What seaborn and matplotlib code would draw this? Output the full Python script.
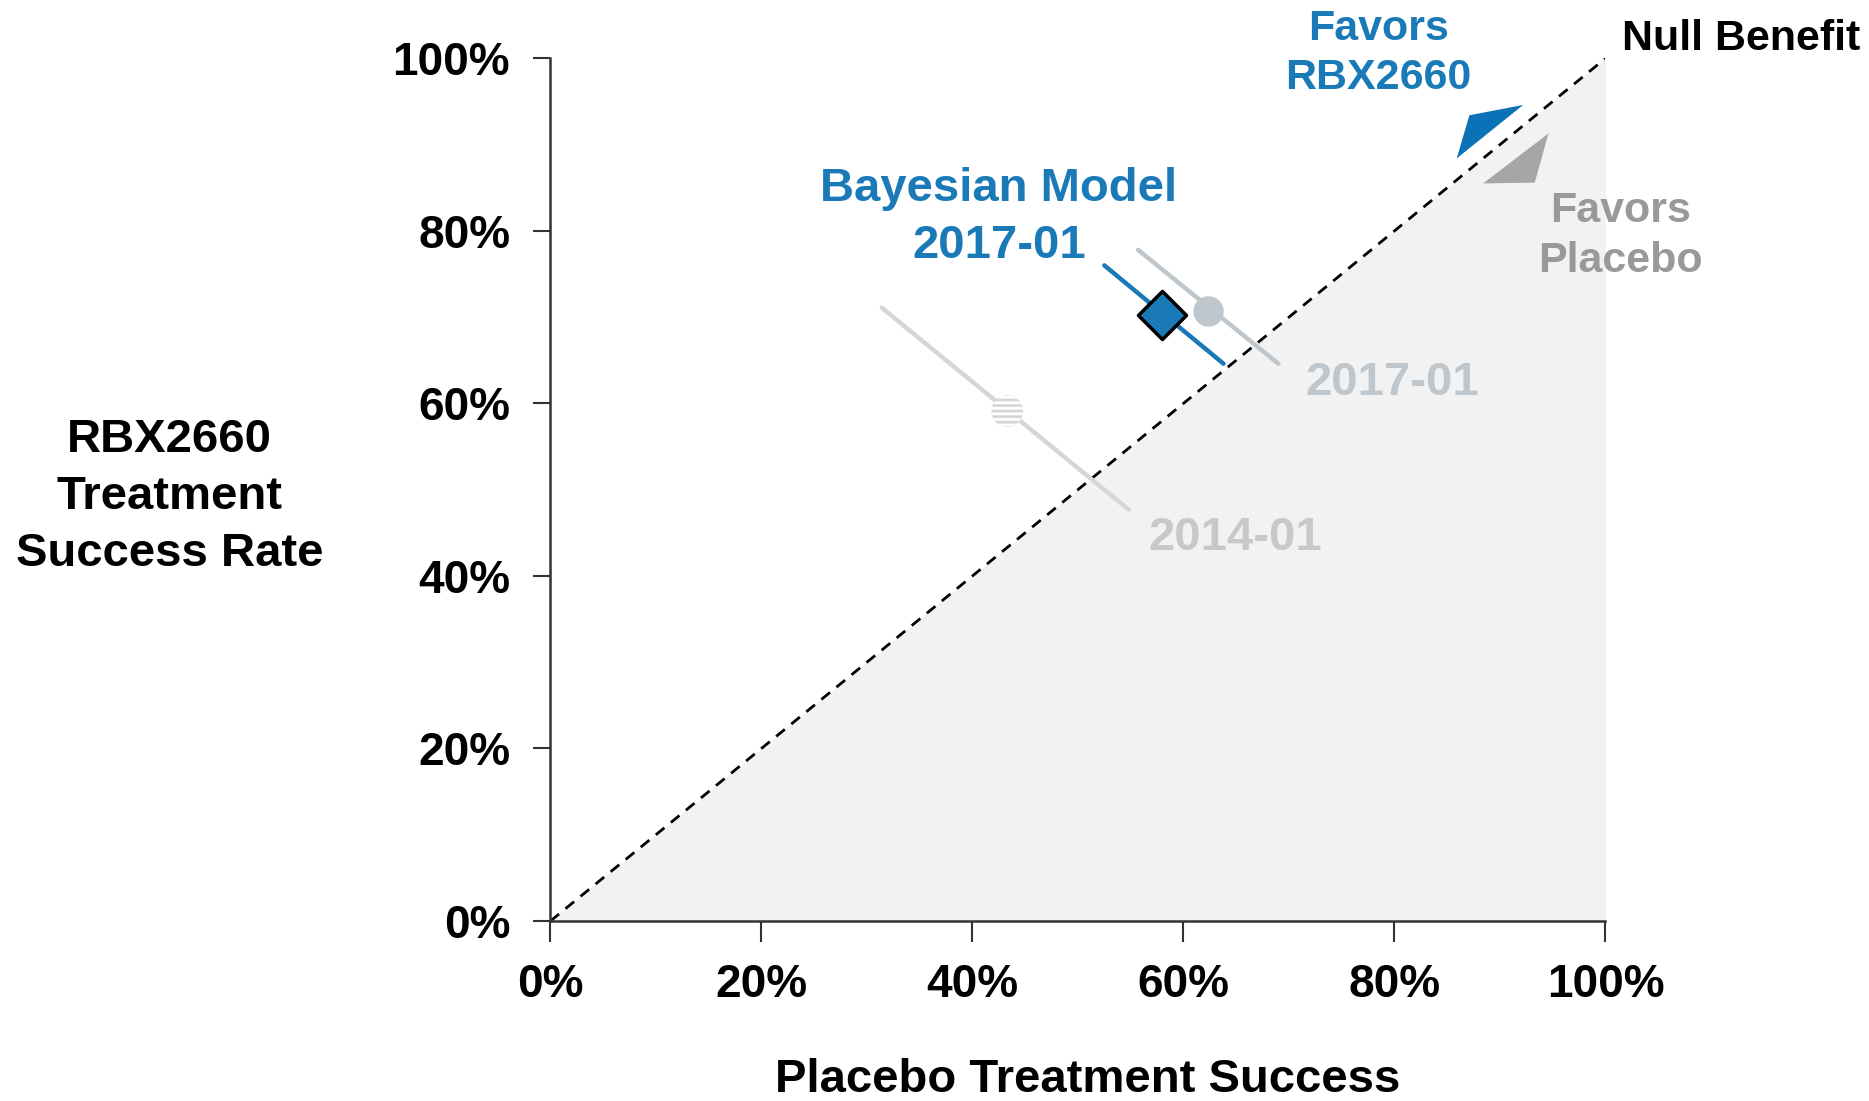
import matplotlib
matplotlib.use("Agg")
import matplotlib.pyplot as plt
import seaborn as sns
import pandas as pd
from matplotlib.ticker import PercentFormatter

# ---------------- data (percent) ----------------
studies = ["2014-01", "2017-01", "Bayesian Model 2017-01"]
placebo_rate = [43.3, 62.3, 58.0]          # x of point estimate
treatment_rate = [59.1, 70.7, 70.2]        # y of point estimate
seg_x_start = [31.4, 55.7, 52.5]
seg_y_start = [71.1, 77.8, 76.0]
seg_x_end = [54.8, 69.0, 63.8]
seg_y_end = [47.7, 64.6, 64.6]

null_x = [0, 100]
null_y = [0, 100]

tick_values = [0, 20, 40, 60, 80, 100]

# favour arrows (triangles) in data units
fav_trt_x = [87.1, 92.2, 85.9]
fav_trt_y = [93.4, 94.6, 88.4]
fav_pbo_x = [94.6, 88.4, 93.3]
fav_pbo_y = [91.3, 85.5, 85.6]

# ---------------- style ----------------
sns.set_theme(style="white")
plt.rcParams['font.family'] = ['Liberation Sans', 'DejaVu Sans']
plt.rcParams['font.weight'] = 'bold'
plt.rcParams['hatch.linewidth'] = 2.0

BLUE = "#1a7ab8"
GRAY17 = "#bfc7cc"
GRAY14 = "#d6d6d6"
colors = [GRAY14, GRAY17, BLUE]

fig = plt.figure(figsize=(18.69, 11.01), dpi=100)
ax = fig.add_axes([0.2945, 0.1635, 0.5645, 0.7835])

# shaded "favors placebo" region below the diagonal
ax.fill_between(null_x, [0, 0], null_y, color="#f2f2f2", lw=0, zorder=0)

# null benefit diagonal
sns.lineplot(x=null_x, y=null_y, ax=ax, color="black", lw=2, zorder=2)
ax.lines[-1].set_dashes([4, 3])

# interval segments
for i, s in enumerate(studies):
    seg = pd.DataFrame({"x": [seg_x_start[i], seg_x_end[i]],
                        "y": [seg_y_start[i], seg_y_end[i]]})
    sns.lineplot(data=seg, x="x", y="y", ax=ax, color=colors[i], lw=3.2,
                 zorder=3, sort=False)

# point estimates
sns.scatterplot(x=[placebo_rate[0]], y=[treatment_rate[0]], ax=ax, s=520,
                color=GRAY14, edgecolor="white", linewidth=0, hatch="---",
                zorder=4)
sns.scatterplot(x=[placebo_rate[1]], y=[treatment_rate[1]], ax=ax, s=480,
                color=GRAY17, edgecolor=GRAY17, linewidth=0, zorder=4)
sns.scatterplot(x=[placebo_rate[2]], y=[treatment_rate[2]], ax=ax, s=600,
                marker="D", color=BLUE, edgecolor="black", linewidth=2.5,
                zorder=5)

# favour triangles
ax.fill(fav_trt_x, fav_trt_y, color="#0c72b8", lw=0, zorder=3)
ax.fill(fav_pbo_x, fav_pbo_y, color="#a6a6a6", lw=0, zorder=3)

# ---------------- axes ----------------
ax.set_xlim(0, 100)
ax.set_ylim(0, 100)
ax.set_xticks(tick_values)
ax.set_yticks(tick_values)
ax.xaxis.set_major_formatter(PercentFormatter(decimals=0))
ax.yaxis.set_major_formatter(PercentFormatter(decimals=0))
ax.tick_params(axis="x", length=15, width=1.5, color="#333333", pad=15,
               labelsize=33, bottom=True, labelcolor="black")
ax.tick_params(axis="y", length=12, width=1.5, color="#333333", pad=17,
               labelsize=33, left=True, labelcolor="black")
for lab in ax.get_xticklabels() + ax.get_yticklabels():
    lab.set_fontweight("bold")
sns.despine(ax=ax)
for sp in ["left", "bottom"]:
    ax.spines[sp].set_color("#333333")
    ax.spines[sp].set_linewidth(1.8)
ax.grid(False)
ax.set_facecolor("white")

ax.set_xlabel("Placebo Treatment Success", fontsize=34, fontweight="bold",
              color="black")
ax.xaxis.set_label_coords(0.5095, -0.159)
ax.set_ylabel("RBX2660\nTreatment\nSuccess Rate", fontsize=34,
              fontweight="bold", rotation=0, ha="center", va="center",
              linespacing=1.38, color="black")
ax.yaxis.set_label_coords(-0.361, 0.4915)

# ---------------- annotations ----------------
ax.text(42.5, 81.6, "Bayesian Model\n2017-01", color=BLUE, fontsize=34,
        fontweight="bold", ha="center", va="center", linespacing=1.38)
ax.text(79.8, 62.4, "2017-01", color=GRAY17, fontsize=34, fontweight="bold",
        ha="center", va="center")
ax.text(64.9, 44.4, "2014-01", color="#c8c8c8", fontsize=34,
        fontweight="bold", ha="center", va="center")
ax.text(78.5, 100.6, "Favors\nRBX2660", color=BLUE, fontsize=31,
        fontweight="bold", ha="center", va="center", linespacing=1.3,
        clip_on=False)
ax.text(112.9, 102.2, "Null Benefit", color="black", fontsize=31,
        fontweight="bold", ha="center", va="center", clip_on=False)
ax.text(101.4, 79.4, "Favors\nPlacebo", color="#999999", fontsize=31,
        fontweight="bold", ha="center", va="center", linespacing=1.3,
        clip_on=False)

fig.savefig("out.png", dpi=100, facecolor="white")
